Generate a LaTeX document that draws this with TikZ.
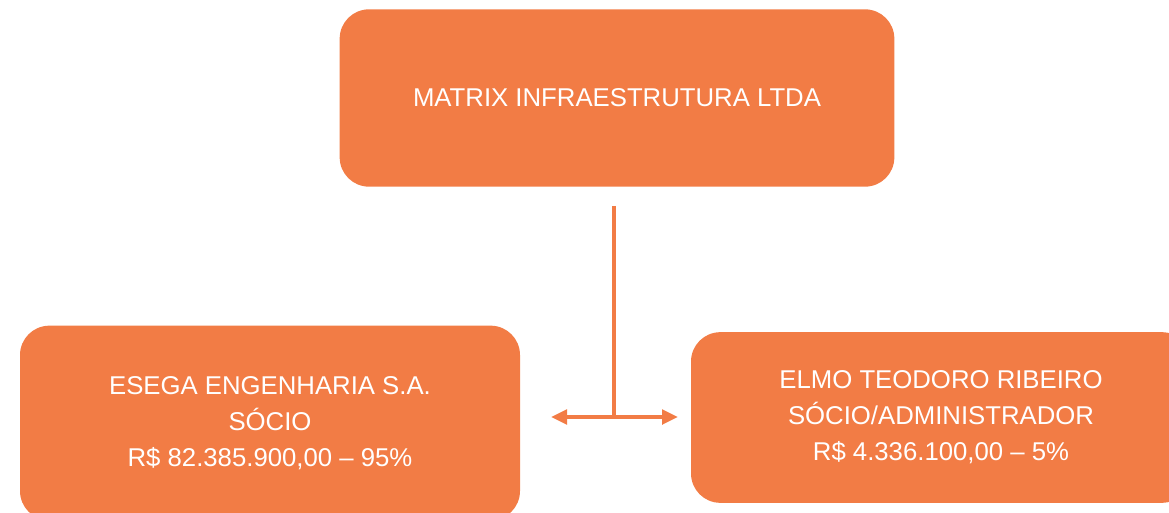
\documentclass[tikz,border=0pt]{standalone}
\usepackage{fontspec}
\setmainfont{Liberation Sans}
\usetikzlibrary{arrows.meta}
\definecolor{laranja}{RGB}{242,124,69}
\begin{document}
\begin{tikzpicture}[x=0.75pt,y=-0.75pt,
  orgbox/.style={fill=laranja,rounded corners=22pt,text=white,align=center,
    font=\fontsize{19.3}{27}\selectfont,inner sep=0pt},
  link/.style={draw=laranja,line width=2.6pt}]
  \useasboundingbox (0,0) rectangle (1169,513);
  \node[orgbox,minimum width=416pt,minimum height=133pt] (matrix) at (617,98)
    {MATRIX INFRAESTRUTURA LTDA};
  \node[orgbox,minimum width=375pt,minimum height=146pt] (esega) at (270,423)
    {ESEGA ENGENHARIA S.A.\\SÓCIO\\R\$ 82.385.900,00 – 95\%};
  \node[orgbox,minimum width=375pt,minimum height=128pt] (elmo) at (941,417.5)
    {ELMO TEODORO RIBEIRO\\SÓCIO/ADMINISTRADOR\\R\$ 4.336.100,00 – 5\%};
  \coordinate (stem) at (614,206);
  \coordinate (joint) at (614,417);
  \coordinate (esq) at (551,417);
  \coordinate (dir) at (678,417);
  \draw[link] (stem) -- (joint);
  \draw[link,{Triangle[length=12pt,width=11pt]}-{Triangle[length=12pt,width=11pt]}] (esq) -- (dir);
\end{tikzpicture}
\end{document}
